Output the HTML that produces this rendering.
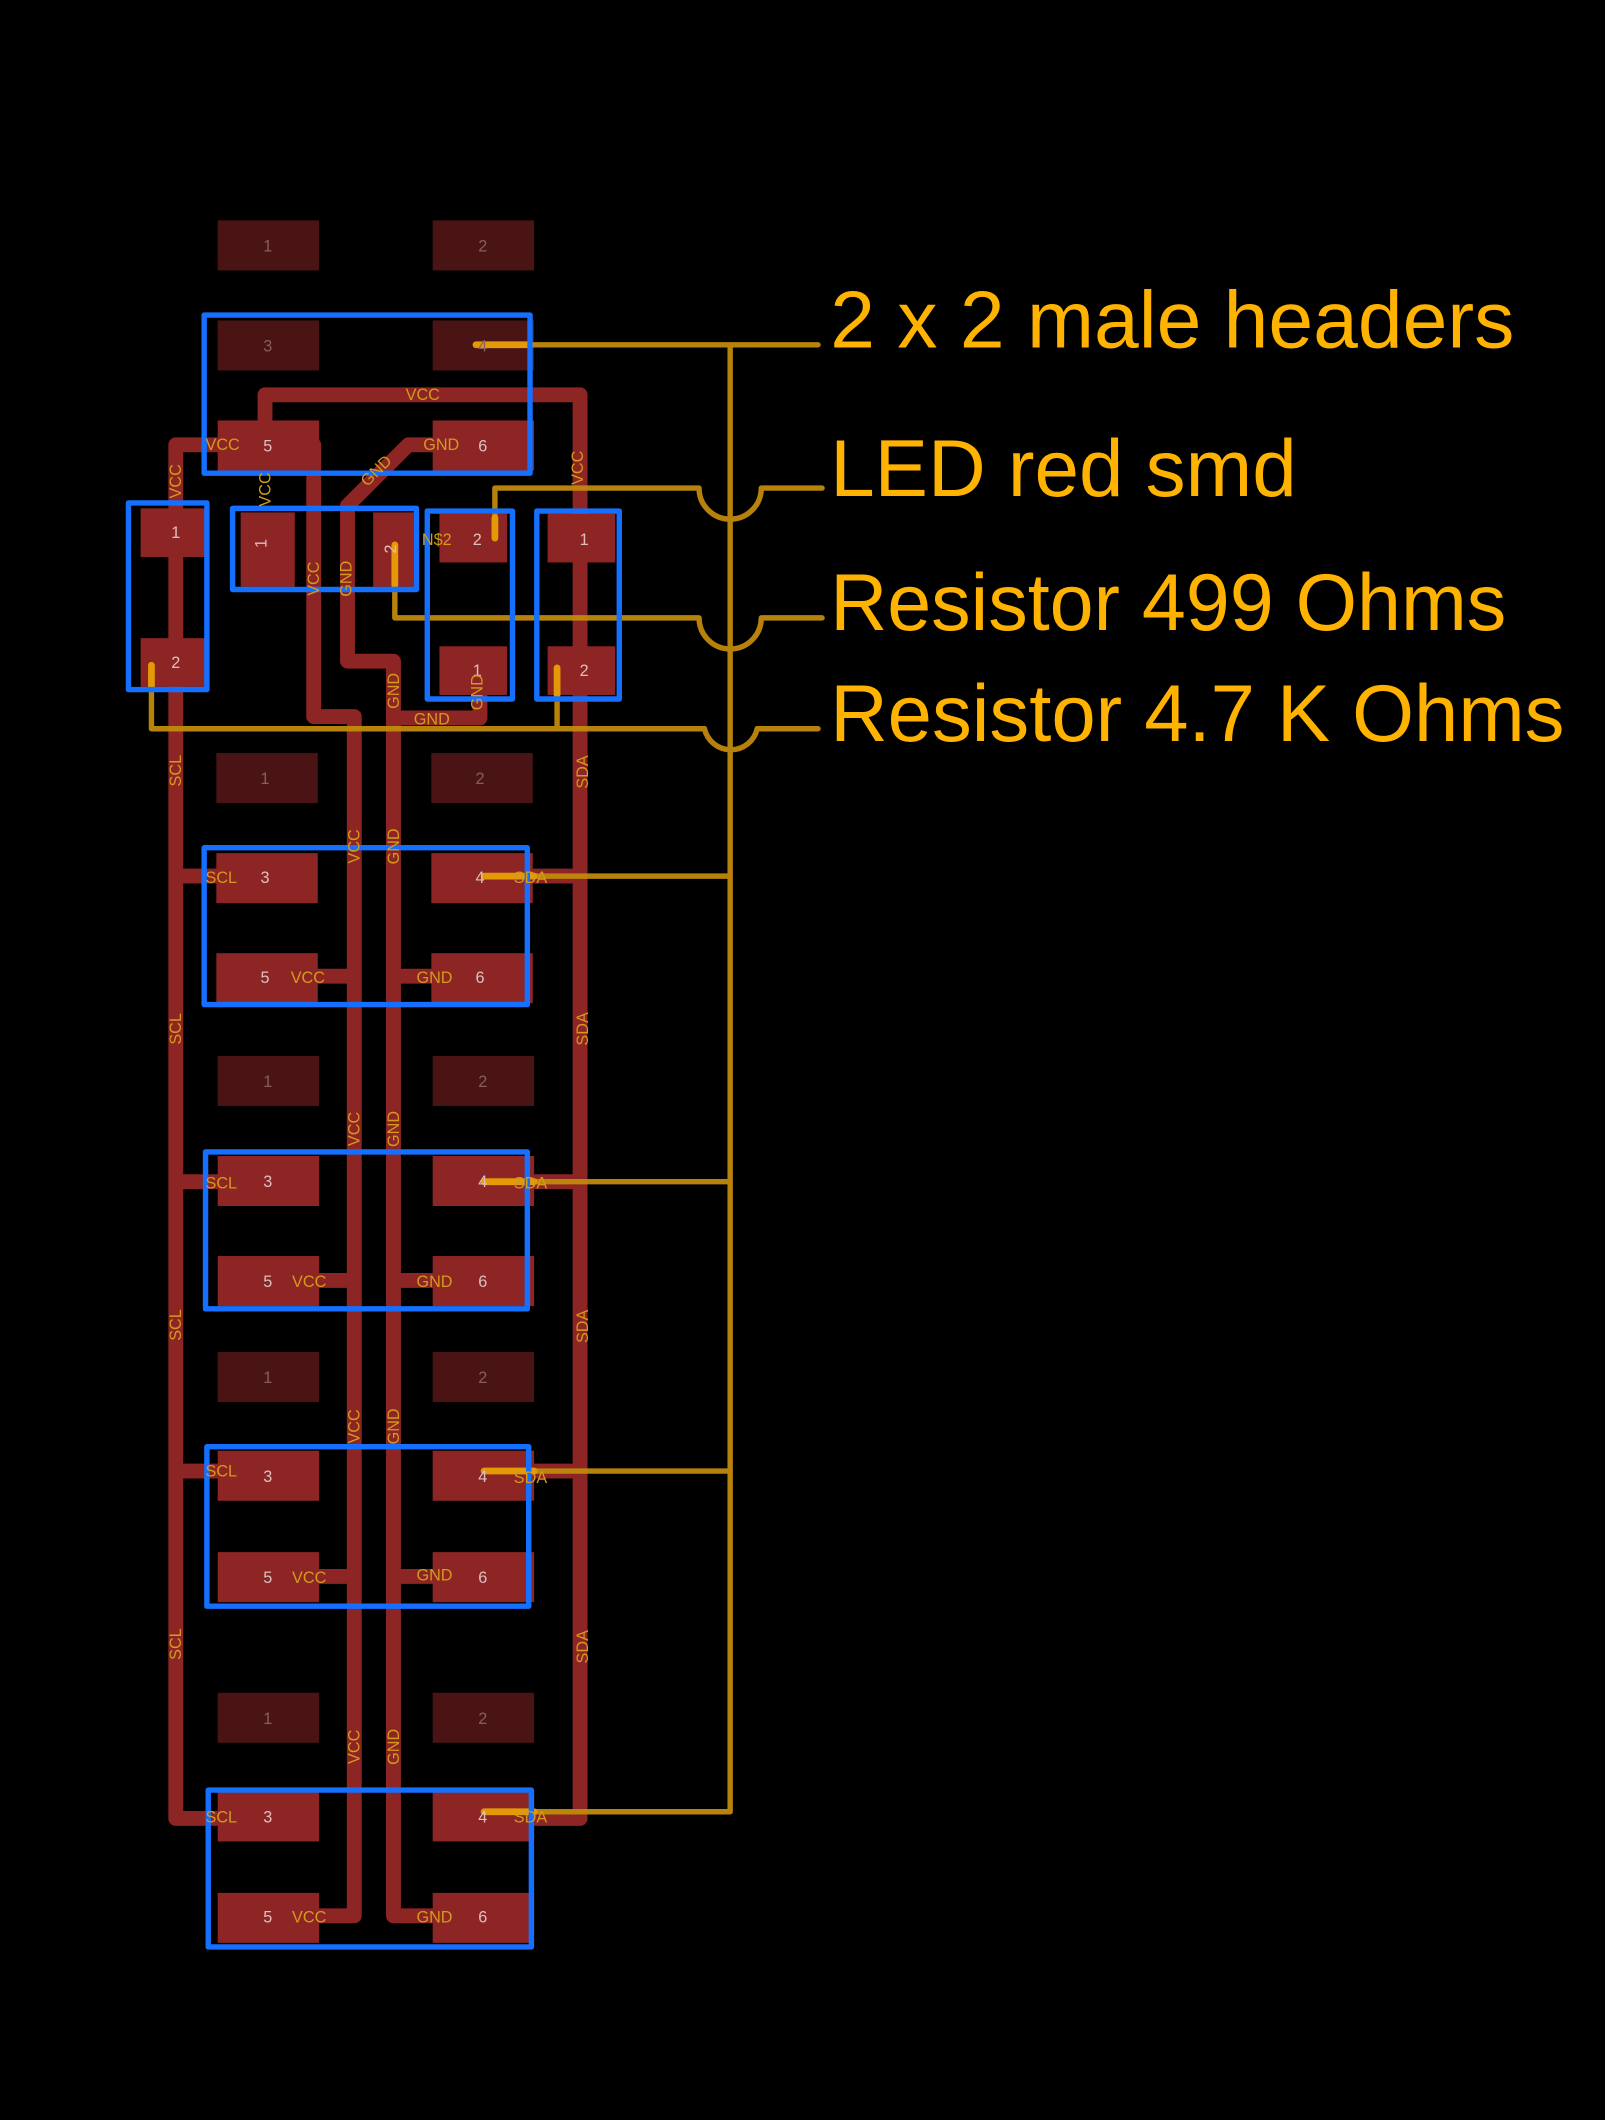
<!DOCTYPE html>
<html><head><meta charset="utf-8"><style>
html,body{margin:0;padding:0;background:#000;}
svg{display:block;}
text{font-family:"Liberation Sans",sans-serif;}
</style></head><body>
<svg width="1605" height="2120" viewBox="0 0 1187 1568" preserveAspectRatio="none" xmlns="http://www.w3.org/2000/svg">
<rect width="1187" height="1568" fill="#000"/>
<!-- dark pads -->
<g fill="#4a1414">
<rect x="161" y="163" width="75" height="37"/><rect x="320" y="163" width="75" height="37"/>
<rect x="161" y="237" width="75" height="37"/><rect x="320" y="237" width="75" height="37"/>
<rect x="160" y="557" width="75" height="37"/><rect x="319" y="557" width="75" height="37"/>
<rect x="161" y="781" width="75" height="37"/><rect x="320" y="781" width="75" height="37"/>
<rect x="161" y="1000" width="75" height="37"/><rect x="320" y="1000" width="75" height="37"/>
<rect x="161" y="1252" width="75" height="37"/><rect x="320" y="1252" width="75" height="37"/>
</g>
<!-- bright pads -->
<g fill="#8e2525">
<rect x="161" y="311" width="75" height="37"/><rect x="320" y="311" width="75" height="37"/>
<rect x="160" y="631" width="75" height="37"/><rect x="319" y="631" width="75" height="37"/>
<rect x="160" y="705" width="75" height="37"/><rect x="319" y="705" width="75" height="37"/>
<rect x="161" y="855" width="75" height="37"/><rect x="320" y="855" width="75" height="37"/>
<rect x="161" y="929" width="75" height="37"/><rect x="320" y="929" width="75" height="37"/>
<rect x="161" y="1073" width="75" height="37"/><rect x="320" y="1073" width="75" height="37"/>
<rect x="161" y="1148" width="75" height="37"/><rect x="320" y="1148" width="75" height="37"/>
<rect x="161" y="1325" width="75" height="37"/><rect x="320" y="1325" width="75" height="37"/>
<rect x="161" y="1400" width="75" height="37"/><rect x="320" y="1400" width="75" height="37"/>
<rect x="104" y="376" width="50" height="36"/><rect x="104" y="472" width="50" height="36"/>
<rect x="178" y="379" width="40" height="55"/><rect x="276" y="379" width="30" height="55"/>
<rect x="325" y="380" width="50" height="36"/><rect x="325" y="478" width="50" height="36"/>
<rect x="405" y="380" width="50" height="36"/><rect x="405" y="478" width="50" height="36"/>
</g>
<!-- red traces -->
<g fill="none" stroke="#8e2525" stroke-width="11" stroke-linejoin="round" stroke-linecap="round">
<path d="M196 311 V292 H429 V1345 H395"/>
<path d="M161 329 H130 V1345 H161"/>
<path d="M130 648 H161 M130 874 H161 M130 1088 H161"/>
<path d="M395 648 H429 M395 874 H429 M395 1088 H429"/>
<path d="M232 329 V530 H262 V1417 H236"/>
<path d="M236 722 H262 M236 947 H262 M236 1166 H262"/>
<path d="M320 329 H302 L257 374 V489 H291 V1417 H320"/>
<path d="M291 722 H320 M291 947 H320 M291 1166 H320"/>
<path d="M291 531 H355 V505"/>
</g>
<!-- orange wires -->
<g fill="none" stroke="#c18a0c" stroke-width="4" stroke-linejoin="round" stroke-linecap="round" opacity="0.95">
<path d="M352 255 H605"/>
<path d="M540 255 V1340 H358"/>
<path d="M358 648 H540 M358 874 H540 M358 1088 H540"/>
<path d="M366 398 V361 H517 A23 23 0 0 0 563 361 H608"/>
<path d="M292 403 V457 H517 A23 23 0 0 0 563 457 H608"/>
<path d="M112 492 V539 H521 A20 20 0 0 0 560 539 H605"/>
<path d="M412 494 V539"/>
</g>
<g stroke="#e39a06" stroke-width="5" stroke-linecap="round">
<path d="M352 255 H392"/><path d="M358 648 H395"/><path d="M358 874 H395"/><path d="M358 1088 H395"/><path d="M358 1340 H395"/>
<path d="M366 383 V398"/><path d="M292 403 V433"/><path d="M112 492 V508"/><path d="M412 494 V514"/>
</g>
<!-- blue outlines -->
<g fill="none" stroke="#1570ff" stroke-width="4" stroke-linejoin="round">
<rect x="151" y="233" width="241" height="117"/>
<rect x="151" y="627" width="239" height="116"/>
<rect x="152" y="852" width="238" height="116"/>
<rect x="153" y="1070" width="238" height="118"/>
<rect x="154" y="1324" width="239" height="116"/>
<rect x="95" y="372" width="58" height="138"/>
<rect x="172" y="376" width="136" height="60"/>
<rect x="316" y="378" width="63" height="139"/>
<rect x="397" y="378" width="61" height="139"/>
</g>
<!-- pad numbers -->
<g font-size="12" fill="#8a5c5c" text-anchor="middle">
<text x="198" y="186">1</text><text x="357" y="186">2</text>
<text x="198" y="260">3</text><text x="357" y="260">4</text>
<text x="196" y="580">1</text><text x="355" y="580">2</text>
<text x="198" y="804">1</text><text x="357" y="804">2</text>
<text x="198" y="1023">1</text><text x="357" y="1023">2</text>
<text x="198" y="1275">1</text><text x="357" y="1275">2</text>
</g>
<g font-size="12" fill="#dcc0c0" text-anchor="middle">
<text x="198" y="334">5</text><text x="357" y="334">6</text>
<text x="196" y="653">3</text><text x="355" y="653">4</text>
<text x="196" y="727">5</text><text x="355" y="727">6</text>
<text x="198" y="878">3</text><text x="357" y="878">4</text>
<text x="198" y="952">5</text><text x="357" y="952">6</text>
<text x="198" y="1096">3</text><text x="357" y="1096">4</text>
<text x="198" y="1171">5</text><text x="357" y="1171">6</text>
<text x="198" y="1348">3</text><text x="357" y="1348">4</text>
<text x="198" y="1422">5</text><text x="357" y="1422">6</text>
<text x="130" y="398">1</text><text x="130" y="494">2</text>
<text x="353" y="403">2</text><text x="353" y="500">1</text>
<text x="432" y="403">1</text><text x="432" y="500">2</text>
<text x="201" y="406" transform="rotate(-90 197 406)">1</text>
<text x="293" y="406" transform="rotate(-90 293 406)">2</text>
</g>
<!-- net labels -->
<g font-size="12" fill="#d49a1c">
<text x="300" y="296">VCC</text>
<text x="152" y="333">VCC</text>
<text x="313" y="333">GND</text>
<text x="312" y="403">N$2</text>
<text x="306" y="536">GND</text>
<text x="152" y="653">SCL</text><text x="380" y="653">SDA</text>
<text x="215" y="727">VCC</text><text x="308" y="727">GND</text>
<text x="152" y="879">SCL</text><text x="380" y="879">SDA</text>
<text x="216" y="952">VCC</text><text x="308" y="952">GND</text>
<text x="152" y="1092">SCL</text><text x="380" y="1097">SDA</text>
<text x="216" y="1171">VCC</text><text x="308" y="1169">GND</text>
<text x="152" y="1348">SCL</text><text x="380" y="1348">SDA</text>
<text x="216" y="1422">VCC</text><text x="308" y="1422">GND</text>
</g>
<g font-size="12" fill="#d49a1c" text-anchor="middle">
<text transform="translate(134 356) rotate(-90)">VCC</text>
<text transform="translate(200 362) rotate(-90)">VCC</text>
<text transform="translate(431 346) rotate(-90)">VCC</text>
<text transform="translate(281 351) rotate(-45)">GND</text>
<text transform="translate(236 428) rotate(-90)">VCC</text>
<text transform="translate(260 428) rotate(-90)">GND</text>
<text transform="translate(295 511) rotate(-90)">GND</text>
<text transform="translate(357 512) rotate(-90)">GND</text>
<text transform="translate(134 570) rotate(-90)">SCL</text>
<text transform="translate(134 761) rotate(-90)">SCL</text>
<text transform="translate(134 980) rotate(-90)">SCL</text>
<text transform="translate(134 1216) rotate(-90)">SCL</text>
<text transform="translate(435 571) rotate(-90)">SDA</text>
<text transform="translate(435 761) rotate(-90)">SDA</text>
<text transform="translate(435 981) rotate(-90)">SDA</text>
<text transform="translate(435 1218) rotate(-90)">SDA</text>
<text transform="translate(266 626) rotate(-90)">VCC</text>
<text transform="translate(295 626) rotate(-90)">GND</text>
<text transform="translate(266 835) rotate(-90)">VCC</text>
<text transform="translate(295 835) rotate(-90)">GND</text>
<text transform="translate(266 1055) rotate(-90)">VCC</text>
<text transform="translate(295 1055) rotate(-90)">GND</text>
<text transform="translate(266 1292) rotate(-90)">VCC</text>
<text transform="translate(295 1292) rotate(-90)">GND</text>
</g>
<!-- big labels -->
<g font-size="60" fill="#ffb300">
<text x="614" y="257" textLength="506" lengthAdjust="spacingAndGlyphs">2 x 2 male headers</text>
<text x="614" y="367" textLength="345" lengthAdjust="spacingAndGlyphs">LED red smd</text>
<text x="614" y="466" textLength="500" lengthAdjust="spacingAndGlyphs">Resistor 499 Ohms</text>
<text x="614" y="548" textLength="543" lengthAdjust="spacingAndGlyphs">Resistor 4.7 K Ohms</text>
</g>
</svg>
</body></html>
